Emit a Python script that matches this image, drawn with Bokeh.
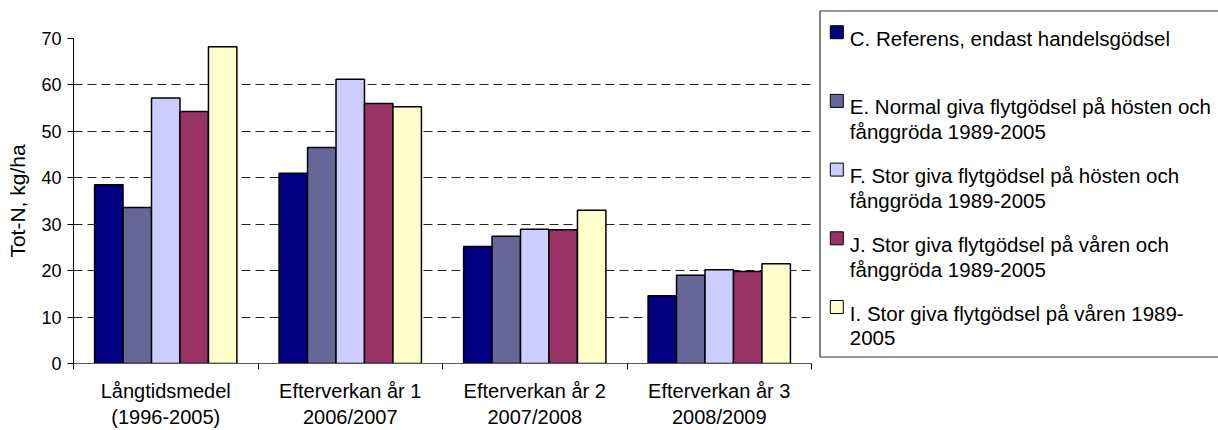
from bokeh.plotting import figure
from bokeh.models import Range1d, FixedTicker, ColumnDataSource
from bokeh.layouts import row
from bokeh.core.properties import value
from bokeh.embed import file_html
from bokeh.resources import INLINE

# ---------------- data ----------------
groups = ["Långtidsmedel\n(1996-2005)", "Efterverkan år 1\n2006/2007",
          "Efterverkan år 2\n2007/2008", "Efterverkan år 3\n2008/2009"]
series_C = [38.5, 41.0, 25.2, 14.6]
series_E = [33.6, 46.5, 27.4, 19.0]
series_F = [57.2, 61.2, 28.9, 20.2]
series_J = [54.3, 56.0, 28.8, 19.8]
series_I = [68.2, 55.3, 33.0, 21.5]
legend_lines = [
    ["C. Referens, endast handelsgödsel"],
    ["E. Normal giva flytgödsel på hösten och", "fånggröda 1989-2005"],
    ["F. Stor giva flytgödsel på hösten och", "fånggröda 1989-2005"],
    ["J. Stor giva flytgödsel på våren och", "fånggröda 1989-2005"],
    ["I. Stor giva flytgödsel på våren 1989-", "2005"],
]
colors = ["#000080", "#666699", "#CCCCFF", "#993366", "#FFFFCC"]
y_ticks = [0, 10, 20, 30, 40, 50, 60, 70]
y_label = "Tot-N, kg/ha"

FONT_NAME = "Liberation Sans"
FONT = value(FONT_NAME)
all_series = [series_C, series_E, series_F, series_J, series_I]

# ---------------- main chart ----------------
p = figure(width=815, height=430, x_range=Range1d(0, len(groups)), y_range=Range1d(0, 70),
           output_backend="svg", toolbar_location=None,
           min_border_left=73, min_border_right=4, min_border_top=38, min_border_bottom=67)
p.outline_line_color = None
p.background_fill_color = "white"
p.border_fill_color = "white"

BW = 0.1543
n = len(all_series)
for j, vals in enumerate(all_series):
    xs = [i + 0.5 + (j - (n - 1) / 2) * BW for i in range(len(groups))]
    src = ColumnDataSource(dict(x=xs, top=vals))
    p.vbar(x="x", top="top", width=BW, source=src, fill_color=colors[j],
           line_color="black", line_width=1.5)

# x axis
xax = p.xaxis[0]
xax.ticker = FixedTicker(ticks=[i + 0.5 for i in range(len(groups))],
                         minor_ticks=list(range(len(groups) + 1)))
xax.major_label_overrides = {i + 0.5: g for i, g in enumerate(groups)}
xax.major_tick_line_color = None
xax.major_tick_out = 0
xax.major_tick_in = 0
xax.minor_tick_out = 6
xax.minor_tick_in = 0
xax.minor_tick_line_color = "black"
xax.axis_line_color = "#555555"
xax.major_label_text_font = FONT_NAME
xax.major_label_text_font_size = "20px"
xax.major_label_text_color = "black"
xax.major_label_standoff = 10

# y axis
yax = p.yaxis[0]
yax.ticker = FixedTicker(ticks=y_ticks)
yax.major_tick_out = 6
yax.major_tick_in = 0
yax.minor_tick_line_color = None
yax.axis_line_color = "black"
yax.major_tick_line_color = "black"
yax.major_label_text_font = FONT_NAME
yax.major_label_text_font_size = "18px"
yax.major_label_text_color = "black"
yax.major_label_standoff = 6
yax.axis_label = y_label
yax.axis_label_text_font = FONT_NAME
yax.axis_label_text_font_size = "21px"
yax.axis_label_text_font_style = "normal"
yax.axis_label_text_color = "black"
yax.axis_label_standoff = 9

p.xgrid.grid_line_color = None
p.ygrid.ticker = FixedTicker(ticks=y_ticks)
p.ygrid.grid_line_color = "#222222"
p.ygrid.grid_line_dash = "9 5"
p.ygrid.grid_line_width = 1

# ---------------- legend panel ----------------
LW = 1218 - 815
leg = figure(width=LW, height=430, x_range=Range1d(0, LW), y_range=Range1d(430, 0),
             output_backend="svg", toolbar_location=None,
             min_border_left=0, min_border_right=0, min_border_top=0, min_border_bottom=0,
             x_axis_type=None, y_axis_type=None)
leg.grid.visible = False
leg.outline_line_color = None
leg.background_fill_color = "white"
leg.border_fill_color = "white"
for fig in (p, leg):
    if "frame_align" in fig.properties():
        fig.frame_align = False

BOX_L, BOX_T, BOX_B = 4.5, 10.5, 356.5
leg.quad(left=[BOX_L], right=[LW + 20], top=[BOX_T], bottom=[BOX_B],
         fill_color=None, line_color="#333333", line_width=1.2)

FIRST_C, PITCH, SW_X, SW, TXT_X, LINE_H = 31.7, 68.7, 21.3, 13, 34.3, 25
centers = [FIRST_C + k * PITCH for k in range(len(legend_lines))]
leg.rect(x=[SW_X] * len(centers), y=centers, width=SW, height=SW,
         fill_color=colors, line_color="black", line_width=1)

tx, ty, tt = [], [], []
for k, lines in enumerate(legend_lines):
    for m, ln in enumerate(lines):
        tx.append(TXT_X)
        ty.append(centers[k] + 6 + m * LINE_H)
        tt.append(ln)
leg.text(x=tx, y=ty, text=tt, text_font=FONT, text_font_size="20.5px",
         text_baseline="alphabetic", text_align="left", text_color="black")

layout = row(p, leg)
open("out.html", "w").write(file_html(layout, INLINE))
